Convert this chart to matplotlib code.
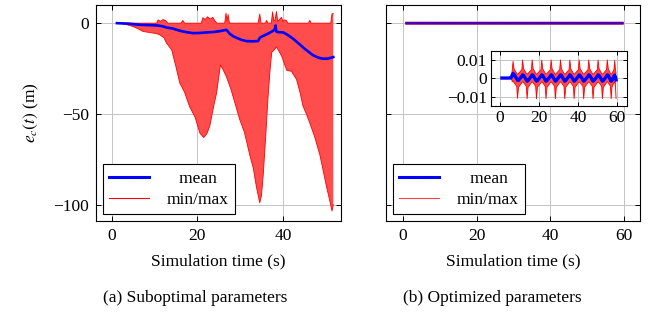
import numpy as np
import matplotlib
matplotlib.use("Agg")
import matplotlib.pyplot as plt

## ============================================================================
## DATA

## (a) suboptimal parameters: mean, upper and lower envelope of e_c(t)
t_mean_a = [1.2, 4.0, 6.5, 9.0, 10.8, 12.0, 12.8, 14.3, 15.9, 17.5, 19.0, 20.6,
	22.2, 23.7, 25.3, 26.8, 27.6, 28.4, 29.2, 30.3, 31.5, 33.0, 34.2, 34.6,
	35.2, 36.2, 37.0, 37.6, 38.1, 38.3, 38.45, 38.6, 39.2, 40.1, 41.2, 42.4,
	43.6, 44.8, 46.0, 47.1, 48.3, 49.4, 50.6, 51.8]
e_mean_a = [0, -0.3, -0.9, -1.1, -1.3, -1.8, -2.4, -3.0, -4.2, -5.0, -5.5, -5.4,
	-5.1, -4.9, -4.4, -3.7, -5.9, -7.2, -8.1, -9.2, -9.9, -10.0, -9.9, -8.1,
	-7.2, -6.2, -5.2, -4.4, -3.5, -1.3, -4.5, -4.8, -5.0, -5.1, -6.6, -8.6,
	-11.0, -13.5, -15.8, -17.7, -19.0, -19.6, -19.5, -18.7]

t_max_a = [1.2, 10.5, 10.8, 11.4, 12.0, 12.6, 13.1, 16.2, 16.6, 17.0, 20.9, 21.3,
	21.8, 22.4, 23.0, 23.6, 24.2, 24.6, 26.4, 26.7, 26.95, 27.2, 27.5, 34.2,
	34.6, 34.9, 35.9, 36.2, 36.5, 37.3, 37.6, 37.9, 38.2, 38.5, 38.8, 39.4,
	39.7, 40.0, 40.4, 40.8, 41.2, 46.0, 46.3, 46.6, 51.2, 51.5, 51.8]
e_max_a = [0, 0, 1.8, 1.0, 2.0, 1.4, 0, 0, 1.5, 0, 0, 3.0,
	2.0, 3.5, 2.2, 3.2, 1.0, 0, 0, 5.5, 1.0, 4.8, 0, 0,
	5.0, 0, 0, 1.5, 0, 0, 6.2, 1.2, 2.0, 6.4, 1.0, 2.5,
	3.2, 1.0, 1.8, 1.5, 0, 0, 1.5, 0, 0, 5.2, 5.2]

t_min_a = [1.2, 3.0, 5.0, 6.5, 7.3, 9.0, 10.5, 11.2, 12.2, 12.8, 14.0, 15.0,
	15.9, 17.0, 18.2, 19.5, 20.6, 21.5, 22.2, 22.9, 23.8, 24.5, 25.4, 26.0,
	26.8, 27.8, 28.8, 29.9, 31.0, 32.3, 33.1, 33.8, 34.6, 35.0, 35.4, 36.0,
	36.5, 37.0, 37.4, 37.9, 38.5, 39.1, 39.7, 40.3, 40.9, 42.0, 43.2, 44.0,
	44.7, 45.5, 46.3, 47.5, 48.7, 49.5, 50.2, 50.9, 51.5, 51.8]
e_min_a = [0, -0.5, -1.9, -3.5, -4.6, -5.2, -5.8, -6.4, -8.0, -11.0, -14.7, -24.0,
	-33.0, -38.0, -46.0, -52.0, -60.6, -63.0, -61.0, -56.8, -46.0, -38.5, -23.0, -25.5,
	-29.5, -36.0, -44.0, -53.0, -60.0, -73.0, -80.0, -90.0, -99.0, -95.0, -84.0, -62.0,
	-42.0, -26.0, -16.0, -15.0, -13.0, -15.5, -18.0, -22.0, -26.0, -26.5, -31.0, -38.0,
	-45.6, -50.0, -55.0, -63.0, -73.0, -82.0, -90.0, -97.0, -103.5, -100.0]

## (b) optimized parameters: same quantities, tiny oscillation
t_b = [1.0, 5.6, 6.0,
	6.3, 6.7, 7.2, 8.6, 9.0, 9.5,
	11.2, 11.6, 12.1, 13.5, 13.9, 14.4,
	16.1, 16.5, 17.0, 18.3, 18.7, 19.2,
	21.0, 21.4, 21.9, 23.2, 23.6, 24.1,
	25.8, 26.2, 26.7, 28.0, 28.4, 28.9,
	30.6, 31.0, 31.5, 32.8, 33.2, 33.7,
	35.4, 35.8, 36.3, 37.6, 38.0, 38.5,
	40.2, 40.6, 41.1, 42.5, 42.9, 43.4,
	45.1, 45.5, 46.0, 47.3, 47.7, 48.2,
	49.9, 50.3, 50.8, 52.1, 52.5, 53.0,
	54.6, 55.0, 55.5, 56.6, 57.0, 57.4,
	58.4, 58.8, 59.2, 59.5]
e_max_b = [0, 0, 0.0015,
	0.0045, 0.0090, 0.0050, 0.0025, 0.0020, 0.0025,
	0.0045, 0.0098, 0.0050, 0.0025, 0.0020, 0.0025,
	0.0045, 0.0098, 0.0050, 0.0025, 0.0020, 0.0025,
	0.0045, 0.0097, 0.0050, 0.0025, 0.0020, 0.0025,
	0.0045, 0.0098, 0.0050, 0.0025, 0.0020, 0.0025,
	0.0045, 0.0098, 0.0050, 0.0025, 0.0020, 0.0025,
	0.0045, 0.0097, 0.0050, 0.0025, 0.0020, 0.0025,
	0.0045, 0.0098, 0.0050, 0.0025, 0.0020, 0.0025,
	0.0045, 0.0098, 0.0050, 0.0025, 0.0020, 0.0025,
	0.0045, 0.0097, 0.0050, 0.0025, 0.0020, 0.0025,
	0.0045, 0.0098, 0.0050, 0.0025, 0.0020, 0.0025,
	0.0045, 0.0095, 0.0045, 0.0025]
e_min_b = [0, 0, -0.0008,
	-0.0020, -0.0015, -0.0025, -0.0045, -0.0110, -0.0050,
	-0.0025, -0.0020, -0.0025, -0.0045, -0.0112, -0.0050,
	-0.0025, -0.0020, -0.0025, -0.0045, -0.0112, -0.0050,
	-0.0025, -0.0020, -0.0025, -0.0045, -0.0111, -0.0050,
	-0.0025, -0.0020, -0.0025, -0.0045, -0.0112, -0.0050,
	-0.0025, -0.0020, -0.0025, -0.0045, -0.0112, -0.0050,
	-0.0025, -0.0020, -0.0025, -0.0045, -0.0111, -0.0050,
	-0.0025, -0.0020, -0.0025, -0.0045, -0.0112, -0.0050,
	-0.0025, -0.0020, -0.0025, -0.0045, -0.0112, -0.0050,
	-0.0025, -0.0020, -0.0025, -0.0045, -0.0111, -0.0050,
	-0.0025, -0.0020, -0.0025, -0.0045, -0.0112, -0.0050,
	-0.0025, -0.0020, -0.0045, -0.0110]
e_mean_b = [0, 0, 0.0008,
	0.0018, 0.0025, 0.0020, -0.0005, -0.0012, -0.0012,
	0.0010, 0.0017, 0.0014, -0.0010, -0.0017, -0.0013,
	0.0010, 0.0017, 0.0014, -0.0010, -0.0017, -0.0013,
	0.0010, 0.0017, 0.0014, -0.0010, -0.0017, -0.0013,
	0.0010, 0.0017, 0.0014, -0.0010, -0.0017, -0.0013,
	0.0010, 0.0017, 0.0014, -0.0010, -0.0017, -0.0013,
	0.0010, 0.0017, 0.0014, -0.0010, -0.0017, -0.0013,
	0.0010, 0.0017, 0.0014, -0.0010, -0.0017, -0.0013,
	0.0010, 0.0017, 0.0014, -0.0010, -0.0017, -0.0013,
	0.0010, 0.0017, 0.0014, -0.0010, -0.0017, -0.0013,
	0.0010, 0.0017, 0.0014, -0.0010, -0.0017, -0.0013,
	0.0010, 0.0016, 0.0005, -0.0010]

xticks_a = [0, 20, 40]
xticks_b = [0, 20, 40, 60]
yticks = [0, -50, -100]
yticks_in = [-0.01, 0, 0.01]
yticklabels_in = ["\u22120.01", "0", "0.01"]

xlabel = "Simulation time (s)"
ylabel = r"$e_c(t)$ (m)"
captions = ["(a) Suboptimal parameters", "(b) Optimized parameters"]

##=============================================================================
## STYLE

plt.rcParams["font.family"] = ["Liberation Serif", "DejaVu Serif"]
plt.rcParams["mathtext.fontset"] = "stix"
plt.rcParams["font.size"] = 12.5
fs = 12.5
c_fill = "#ff4d4d"
c_edge = "red"
c_mean = "#0000ff"
c_grid = "#c4c4c4"

W, H = 654., 327.

def rect(x0, y0, x1, y1):
	return [x0/W, 1-y1/H, (x1-x0)/W, (y1-y0)/H]

def style_axes(ax):
	ax.grid(True, color=c_grid, lw=0.7, zorder=0)
	ax.set_axisbelow(True)
	ax.tick_params(direction="in", top=True, right=True, length=3.5,
		width=0.7, labelsize=fs, pad=5)
	for s in ax.spines.values():
		s.set_linewidth(0.8)

def envelope(ax, tmax, emax, tmin, emin, lw):
	xs = np.concatenate([tmax, tmin[::-1]])
	ys = np.concatenate([emax, emin[::-1]])
	ax.fill(xs, ys, color=c_fill, lw=0, zorder=2)
	ax.plot(tmax, emax, color=c_edge, lw=lw, zorder=3)
	ax.plot(tmin, emin, color=c_edge, lw=lw, zorder=3)

def add_legend(ax, lw_mean, red_alpha):
	h1, = ax.plot([], [], color=c_mean, lw=lw_mean)
	h2, = ax.plot([], [], color=c_edge, lw=0.8, alpha=red_alpha)
	leg = ax.legend([h1, h2], ["   mean", "min/max"], loc="lower left",
		bbox_to_anchor=(0.029, 0.032), borderaxespad=0, fancybox=False,
		edgecolor="black", framealpha=1, fontsize=fs, handlelength=2.3,
		handletextpad=1.0, borderpad=0.35, labelspacing=0.3)
	leg.get_frame().set_linewidth(0.8)
	return leg

fig = plt.figure(figsize=(W/100, H/100), dpi=100)

##---------------------------------------------------------------
## (a) SUBOPTIMAL

ax = fig.add_axes(rect(96, 5, 341, 221))
style_axes(ax)
envelope(ax, np.array(t_max_a), np.array(e_max_a),
	np.array(t_min_a), np.array(e_min_a), 0.6)
ax.plot(t_mean_a, e_mean_a, color=c_mean, lw=1.9, zorder=4)
ax.set_xlim(-3.7, 53.6)
ax.set_ylim(-109, 10)
ax.set_xticks(xticks_a)
ax.set_yticks(yticks)
ax.set_xlabel(xlabel, fontsize=fs, labelpad=7)
ax.set_ylabel(ylabel, fontsize=fs, labelpad=9)
add_legend(ax, 2.2, 1.0)

##---------------------------------------------------------------
## (b) OPTIMIZED

ax = fig.add_axes(rect(386, 5, 640, 221))
style_axes(ax)
envelope(ax, np.array(t_b), np.array(e_max_b),
	np.array(t_b), np.array(e_min_b), 1.8)
ax.plot(t_b, e_mean_b, color=c_mean, lw=1.9, alpha=0.7, zorder=4)
ax.set_xlim(-4.6, 64.3)
ax.set_ylim(-109, 10)
ax.set_xticks(xticks_b)
ax.set_yticks(yticks)
ax.tick_params(labelleft=False)
ax.set_xlabel(xlabel, fontsize=fs, labelpad=7)
add_legend(ax, 2.2, 0.75)

## Inset
axi = fig.add_axes(rect(491, 51, 627, 106))
style_axes(axi)
axi.set_facecolor("white")
envelope(axi, np.array(t_b), np.array(e_max_b),
	np.array(t_b), np.array(e_min_b), 0.6)
axi.plot(t_b, e_mean_b, color=c_mean, lw=2.4, zorder=4)
axi.set_xlim(-4.6, 65.1)
axi.set_ylim(-0.0151, 0.0146)
axi.set_xticks(xticks_b)
axi.set_yticks(yticks_in)
axi.set_yticklabels(yticklabels_in)
axi.tick_params(pad=3, length=3)

##---------------------------------------------------------------
## Captions
fig.text(195/W, 1-298/H, captions[0], ha="center", va="center", fontsize=fs)
fig.text(492/W, 1-298/H, captions[1], ha="center", va="center", fontsize=fs)

fig.savefig("out.png", dpi=100)
